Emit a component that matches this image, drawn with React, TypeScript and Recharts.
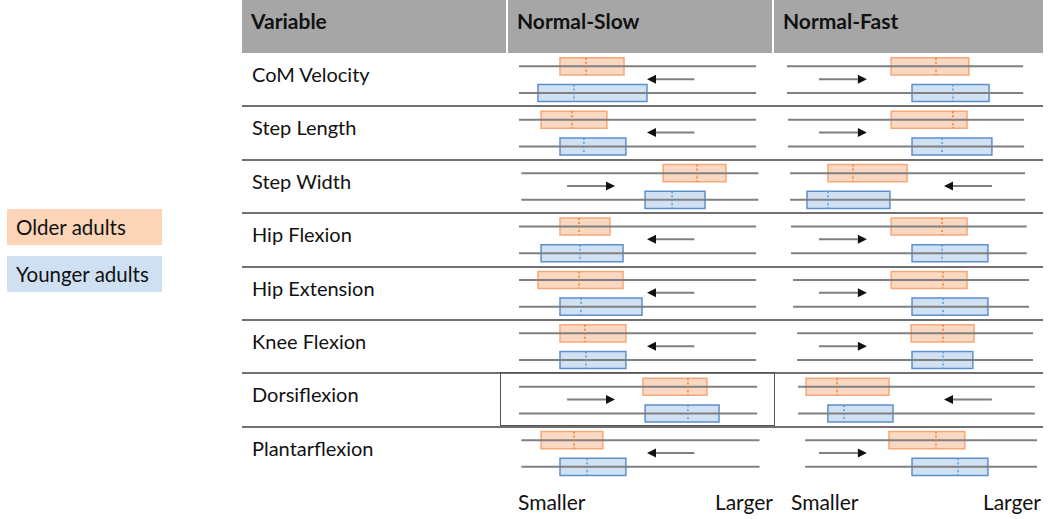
import { ComposedChart, XAxis, YAxis, ReferenceArea, ReferenceLine } from "recharts";

const variables = [
  "CoM Velocity",
  "Step Length",
  "Step Width",
  "Hip Flexion",
  "Hip Extension",
  "Knee Flexion",
  "Dorsiflexion",
  "Plantarflexion",
];

// [low, median, high] on a 0 (smaller) .. 100 (larger) scale
const slowOlder = [
  [17.3, 28.3, 44.3],
  [9.3, 22.4, 37.1],
  [60.8, 75.1, 87.3],
  [17.3, 25.3, 38.4],
  [8.0, 25.3, 43.9],
  [17.3, 27.8, 45.1],
  [52.3, 71.3, 79.3],
  [9.3, 23.2, 35.4],
];
const slowYounger = [
  [8.0, 23.2, 54.0],
  [17.3, 27.4, 45.1],
  [53.2, 64.6, 78.5],
  [9.3, 25.7, 43.9],
  [17.3, 26.2, 51.9],
  [17.3, 28.3, 45.1],
  [53.2, 71.3, 84.4],
  [17.3, 28.7, 45.1],
];
const slowArrows = ["left", "left", "right", "left", "left", "left", "right", "left"];
const slowTrack = [
  [0, 100],
  [0, 100],
  [1, 101],
  [0, 100],
  [0, 100],
  [0, 100],
  [0, 100.5],
  [1, 101.5],
];

const fastOlder = [
  [44.3, 63.4, 77.4],
  [44.3, 70.6, 76.6],
  [17.4, 28.1, 51.1],
  [44.3, 66.0, 76.6],
  [44.3, 66.4, 76.6],
  [52.8, 66.4, 79.6],
  [8.1, 21.3, 43.4],
  [43.4, 63.4, 75.7],
];
const fastYounger = [
  [53.2, 70.6, 86.0],
  [53.2, 66.0, 87.2],
  [8.5, 17.4, 43.8],
  [53.2, 66.0, 85.5],
  [53.2, 66.4, 85.5],
  [53.2, 66.4, 79.1],
  [17.4, 24.3, 45.1],
  [53.2, 72.8, 85.5],
];
const fastArrows = ["right", "right", "left", "right", "right", "right", "left", "right"];
const fastTrack = [
  [0, 100.5],
  [0.4, 100.9],
  [1.3, 101.3],
  [1.7, 102],
  [2.6, 103],
  [4.3, 104.7],
  [4.7, 105.5],
  [7.7, 106.4],
];

// arrow [from, to] per direction
const slowArrowSpan: Record<string, number[]> = { left: [74, 54], right: [20.3, 40.5] };
const fastArrowSpan: Record<string, number[]> = { left: [87.2, 66.8], right: [13.6, 34] };

const FONT = "Lato, 'Open Sans', sans-serif";
const ROW_TOP = 53;
const ROW_H = 53.4;
const OLDER_Y = 0.25;
const YOUNGER_Y = 0.75;
const ARROW_Y = 0.49;
const HALF_BOX = 0.16;

const ORANGE = { fill: "#f8b88e", stroke: "#f6a878", median: "#ed7d31" };
const BLUE = { fill: "#a9c8ea", stroke: "#5d8fca", median: "#5b9bd5" };

function Arrow(props: any) {
  const { x1, y1, x2 } = props;
  const dir = x2 > x1 ? 1 : -1;
  const head = 9;
  const bx = x2 - dir * head;
  return (
    <g>
      <line x1={x1} y1={y1} x2={bx} y2={y1} stroke="#7f7f7f" strokeWidth={2} />
      <polygon points={`${x2},${y1} ${bx},${y1 - 4.5} ${bx},${y1 + 4.5}`} fill="#111" />
    </g>
  );
}

function box(row: number, lane: number, stats: number[], c: typeof ORANGE, key: string) {
  const y = row + lane;
  return [
    <ReferenceArea
      key={key + "a"}
      x1={stats[0]}
      x2={stats[2]}
      y1={y - HALF_BOX}
      y2={y + HALF_BOX}
      fill={c.fill}
      fillOpacity={0.55}
      stroke={c.stroke}
      strokeWidth={1.5}
      ifOverflow="visible"
    />,
    <ReferenceLine
      key={key + "m"}
      segment={[
        { x: stats[1], y: y - HALF_BOX },
        { x: stats[1], y: y + HALF_BOX },
      ]}
      stroke={c.median}
      strokeWidth={1.5}
      strokeDasharray="2 2"
      ifOverflow="visible"
    />,
  ];
}

function ColumnChart({
  older,
  younger,
  arrows,
  track,
  arrowSpan,
  width,
  margin,
}: {
  older: number[][];
  younger: number[][];
  arrows: string[];
  track: number[][];
  arrowSpan: Record<string, number[]>;
  width: number;
  margin: { top: number; right: number; bottom: number; left: number };
}) {
  return (
    <ComposedChart width={width} height={ROW_H * 8} margin={margin} style={{ overflow: "visible" }}>
      <XAxis type="number" dataKey="x" domain={[0, 100]} hide allowDataOverflow />
      <YAxis type="number" domain={[0, 8]} reversed hide allowDataOverflow />
      {variables.flatMap((_, i) =>
        [OLDER_Y, YOUNGER_Y].map((lane) => (
          <ReferenceLine
            key={`t${i}-${lane}`}
            segment={[
              { x: track[i][0], y: i + lane },
              { x: track[i][1], y: i + lane },
            ]}
            stroke="#808080"
            strokeWidth={2}
            ifOverflow="visible"
          />
        ))
      )}
      {variables.flatMap((_, i) => [
        ...box(i, OLDER_Y, older[i], ORANGE, `o${i}`),
        ...box(i, YOUNGER_Y, younger[i], BLUE, `y${i}`),
      ])}
      {variables.map((_, i) => (
        <ReferenceLine
          key={`a${i}`}
          segment={[
            { x: arrowSpan[arrows[i]][0], y: i + ARROW_Y },
            { x: arrowSpan[arrows[i]][1], y: i + ARROW_Y },
          ]}
          ifOverflow="visible"
          shape={Arrow}
        />
      ))}
    </ComposedChart>
  );
}

const abs = (s: React.CSSProperties): React.CSSProperties => ({ position: "absolute", ...s });

export default function App() {
  return (
    <div style={{ position: "relative", width: 1050, height: 519, background: "#fff", fontFamily: FONT, color: "#111" }}>
      <style>{"body{margin:0}"}</style>

      {/* header */}
      <div style={abs({ left: 242, top: 0, width: 801, height: 53, background: "#a6a6a6" })} />
      <div style={abs({ left: 506, top: 0, width: 2, height: 53, background: "#fff" })} />
      <div style={abs({ left: 772, top: 0, width: 2, height: 53, background: "#fff" })} />
      {["Variable", "Normal-Slow", "Normal-Fast"].map((t, i) => (
        <div
          key={t}
          style={abs({ left: [251, 517, 783][i], top: 6, fontSize: 21, fontWeight: 700, lineHeight: "30px" })}
        >
          {t}
        </div>
      ))}

      {/* row separators */}
      {variables.slice(0, 7).map((v, i) => (
        <div
          key={v}
          style={abs({ left: 242, top: ROW_TOP + ROW_H * (i + 1) - 1, width: 801, height: 2, background: "#707070" })}
        />
      ))}
      <div
        style={abs({
          left: 500,
          top: ROW_TOP + ROW_H * 6 - 1,
          width: 275,
          height: ROW_H,
          border: "1.5px solid #555",
          boxSizing: "border-box",
        })}
      />

      {variables.map((v, i) => (
        <div key={v} style={abs({ left: 252, top: ROW_TOP + ROW_H * i + 7, fontSize: 20, lineHeight: "28px" })}>
          {v}
        </div>
      ))}

      {/* legend */}
      <div style={abs({ left: 7, top: 209, width: 155, height: 36, background: "#fcd5b9" })} />
      <div style={abs({ left: 16, top: 213, fontSize: 20.5, lineHeight: "28px" })}>Older adults</div>
      <div style={abs({ left: 7, top: 256, width: 155, height: 36, background: "#cfe0f3" })} />
      <div style={abs({ left: 16, top: 260, fontSize: 20.5, lineHeight: "28px" })}>Younger adults</div>

      {/* charts */}
      <div style={abs({ left: 506, top: ROW_TOP })}>
        <ColumnChart
          older={slowOlder}
          younger={slowYounger}
          arrows={slowArrows}
          track={slowTrack}
          arrowSpan={slowArrowSpan}
          width={267}
          margin={{ top: 0, right: 17, bottom: 0, left: 13 }}
        />
      </div>
      <div style={abs({ left: 773, top: ROW_TOP })}>
        <ColumnChart
          older={fastOlder}
          younger={fastYounger}
          arrows={fastArrows}
          track={fastTrack}
          arrowSpan={fastArrowSpan}
          width={270}
          margin={{ top: 0, right: 21, bottom: 0, left: 14 }}
        />
      </div>

      {/* scale labels */}
      <div style={abs({ left: 518, top: 487, fontSize: 21, lineHeight: "30px" })}>Smaller</div>
      <div style={abs({ left: 673, width: 100, textAlign: "right", top: 487, fontSize: 21, lineHeight: "30px" })}>Larger</div>
      <div style={abs({ left: 791, top: 487, fontSize: 21, lineHeight: "30px" })}>Smaller</div>
      <div style={abs({ left: 941, width: 100, textAlign: "right", top: 487, fontSize: 21, lineHeight: "30px" })}>Larger</div>
    </div>
  );
}
